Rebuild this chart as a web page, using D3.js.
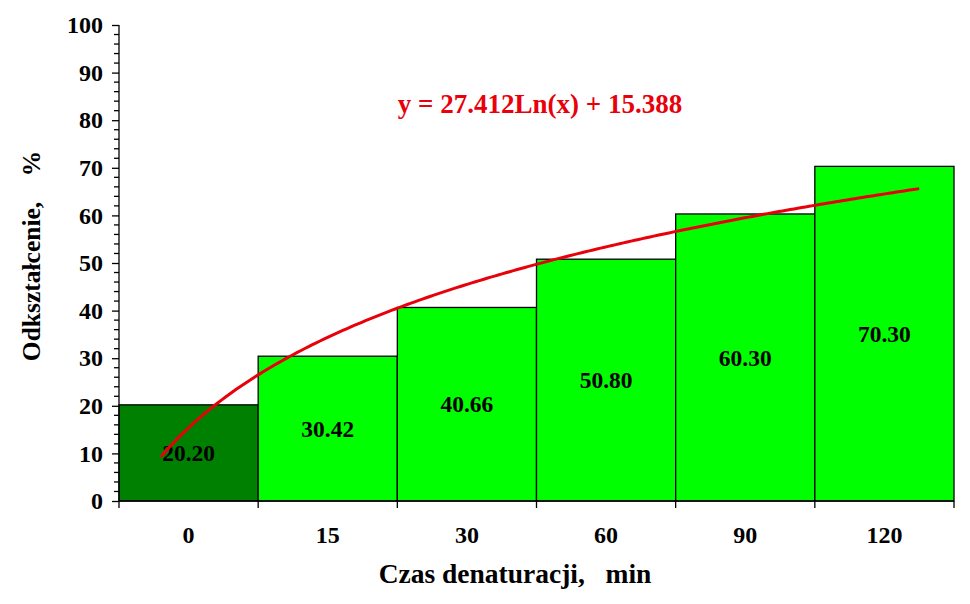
<!DOCTYPE html>
<html><head><meta charset="utf-8">
<script src="https://cdn.jsdelivr.net/npm/d3@7"></script>
<style>body{margin:0;background:#fff}svg{display:block}
.sf{font-family:"Liberation Serif","Tinos","Times New Roman","Times","Nimbus Roman","FreeSerif","Noto Serif","DejaVu Serif",serif;font-weight:bold}</style>
</head><body>
<svg id="c" width="970" height="604"></svg>
<script>
const categories = ["0","15","30","60","90","120"];
const values = [20.20, 30.42, 40.66, 50.80, 60.30, 70.30];
const yTicks = [0,10,20,30,40,50,60,70,80,90,100];
const trendA = 27.412, trendB = 15.388;
const trendRange = [0.8, 6.25];
const equation = "y = 27.412Ln(x) + 15.388";
const xTitle = "Czas denaturacji,   min";
const yTitle = "Odkształcenie,    %";

const svg = d3.select("#c");
const L = 119, R = 954, T = 25, B = 501;

const x = d3.scaleBand().domain(categories).range([L, R]).padding(0);
const y = d3.scaleLinear().domain([0,100]).range([B, T]);
const xn = d3.scaleLinear().domain([1, categories.length])
  .range([x(categories[0]) + x.bandwidth()/2, x(categories[categories.length-1]) + x.bandwidth()/2]);

svg.append("g").selectAll("rect").data(values).join("rect")
  .attr("x", (d,i)=>x(categories[i]))
  .attr("y", d=>y(d))
  .attr("width", x.bandwidth())
  .attr("height", d=>y(0)-y(d))
  .attr("fill", (d,i)=> i===0 ? "#008000" : "#00ff00")
  .attr("stroke", "#000").attr("stroke-width", 1.3);

svg.append("g").selectAll("text").data(values).join("text")
  .attr("class","sf")
  .attr("x", (d,i)=>x(categories[i]) + x.bandwidth()/2)
  .attr("y", d=>y(d/2))
  .attr("dy", "0.35em")
  .attr("text-anchor","middle")
  .attr("font-size", 23.5)
  .text(d=>d.toFixed(2));

const pts = d3.range(0, 201).map(k => {
  const t = trendRange[0] + (trendRange[1]-trendRange[0])*k/200;
  return [xn(t), y(trendA*Math.log(t)+trendB)];
});
svg.append("path").attr("d", d3.line()(pts))
  .attr("fill","none").attr("stroke","#e8000b").attr("stroke-width",3);

const yAxis = svg.append("g").attr("transform", `translate(${L},0)`)
  .call(d3.axisLeft(y).tickValues(yTicks).tickSize(7).tickPadding(9).tickFormat(d3.format("d")));
yAxis.attr("font-family", null);
yAxis.select(".domain").attr("stroke","#000").attr("stroke-width",1.3).attr("d", `M0,${T}V${B}`);
yAxis.selectAll(".tick line").attr("stroke","#000").attr("stroke-width",1.3);
yAxis.selectAll("text").attr("class","sf").attr("font-size", 24).attr("fill","#000");
svg.append("g").selectAll("line").data(d3.range(0,101,2).filter(v=>v%10!==0)).join("line")
  .attr("x1", L-5).attr("x2", L).attr("y1", d=>y(d)).attr("y2", d=>y(d))
  .attr("stroke","#000").attr("stroke-width",1.3);

const xAxis = svg.append("g").attr("transform", `translate(0,${B})`)
  .call(d3.axisBottom(x).tickSize(0).tickPadding(25));
xAxis.attr("font-family", null);
xAxis.select(".domain").remove();
xAxis.selectAll("text").attr("class","sf").attr("font-size", 24).attr("fill","#000");
svg.append("line").attr("x1",L).attr("x2",R).attr("y1",B).attr("y2",B).attr("stroke","#000").attr("stroke-width",1.3);
svg.append("g").selectAll("line").data(d3.range(categories.length+1)).join("line")
  .attr("x1", i=> i<categories.length ? x(categories[i]) : R)
  .attr("x2", i=> i<categories.length ? x(categories[i]) : R)
  .attr("y1", B).attr("y2", B+7).attr("stroke","#000").attr("stroke-width",1.3);

svg.append("text").attr("class","sf").attr("x", 540).attr("y", 113).attr("text-anchor","middle")
  .attr("font-size", 27).attr("fill","#e8000b")
  .text(equation);

svg.append("text").attr("class","sf").attr("x", 515).attr("y", 583).attr("text-anchor","middle")
  .attr("font-size", 27.5).attr("fill","#000")
  .style("white-space","pre")
  .text(xTitle);
svg.append("text").attr("class","sf").attr("transform","translate(40,256) rotate(-90)").attr("text-anchor","middle")
  .attr("font-size", 25.5).attr("fill","#000")
  .style("white-space","pre")
  .text(yTitle);
</script>
</body></html>
